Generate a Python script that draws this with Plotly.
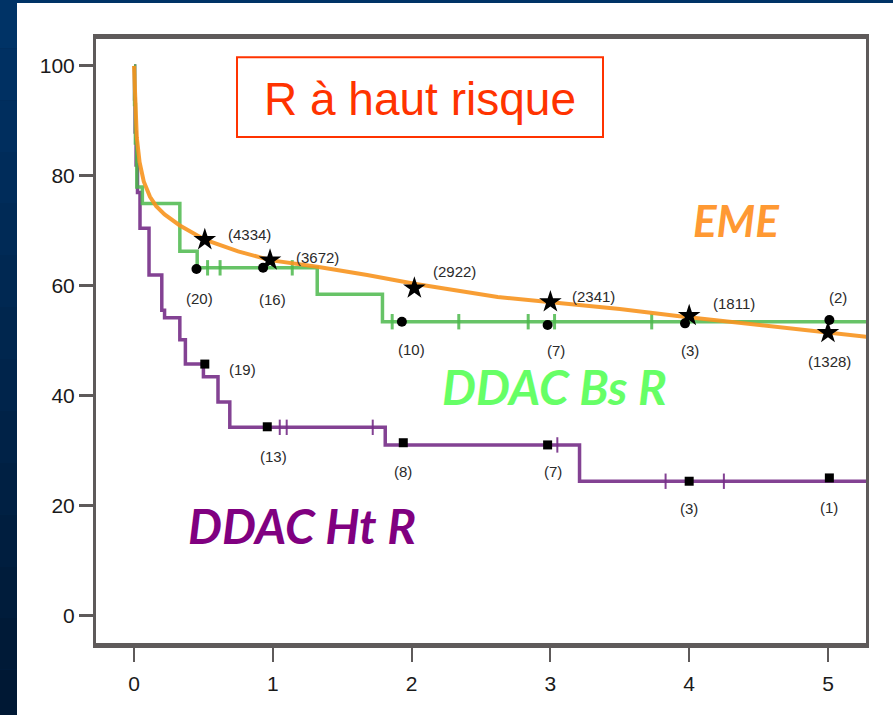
import numpy as np
import plotly.graph_objects as go

# ---------------- data ----------------
years_ticks = [0, 1, 2, 3, 4, 5]
y_ticks = [0, 20, 40, 60, 80, 100]

# EME (smooth curve)
eme_x = [0, 0.005, 0.01, 0.02, 0.04, 0.07, 0.115, 0.16, 0.22, 0.33, 0.51, 0.75, 0.98,
         1.32, 1.68, 2.02, 2.62, 2.98, 3.5, 3.93, 4.29, 5.0, 5.3]
eme_y = [100, 95, 91, 87, 82.5, 79, 76.2, 74.5, 73, 71, 68.4, 66.3, 64.7,
         63.5, 62.0, 60.4, 58.0, 57.1, 55.8, 54.5, 53.5, 51.6, 50.7]
eme_star_x = [0.51, 0.98, 2.02, 3.0, 4.0, 5.0]
eme_star_y = [68.4, 64.7, 59.6, 57.1, 54.6, 51.5]
eme_star_labels = ["(4334)", "(3672)", "(2922)", "(2341)", "(1811)", "(1328)"]

# DDAC Bs R (step)
bs_x = [0, 0.004, 0.01, 0.02, 0.06, 0.33, 0.455, 1.32, 1.79, 5.3]
bs_y = [100, 93, 86, 78, 75, 66.3, 63.3, 58.5, 53.5, 53.5]
bs_censor_x = [0.53, 0.62, 1.14, 1.86, 2.34, 2.84, 3.03, 3.73]
bs_pt_x = [0.45, 0.93, 1.93, 2.98, 3.97, 5.01]
bs_pt_y = [63.1, 63.3, 53.5, 52.9, 53.2, 53.8]
bs_pt_labels = ["(20)", "(16)", "(10)", "(7)", "(3)", "(2)"]

# DDAC Ht R (step)
ht_x = [0, 0.004, 0.008, 0.015, 0.025, 0.043, 0.108, 0.20, 0.22, 0.33, 0.37,
        0.50, 0.605, 0.69, 1.81, 3.21, 5.3]
ht_y = [100, 94, 88, 82, 77, 70.5, 62.0, 55.6, 54.2, 50.2, 45.8,
        43.5, 38.9, 34.3, 31.1, 24.5, 24.5]
ht_censor_x = [1.05, 1.10, 1.72, 3.05, 3.83, 4.25]
ht_pt_x = [0.51, 0.96, 1.94, 2.98, 4.0, 5.01]
ht_pt_y = [45.8, 34.4, 31.5, 31.1, 24.5, 25.1]
ht_pt_labels = ["(19)", "(13)", "(8)", "(7)", "(3)", "(1)"]

# ---------------- style ----------------
ORANGE = "rgba(247,148,30,0.9)"
GREEN = "rgba(76,184,76,0.85)"
PURPLE = "rgba(118,45,135,0.9)"
FRAME = "#5e5a5a"

# label offsets in pixels (xshift, yshift)
eme_off = [(45, 5), (47, 3), (40, 17), (43, 5), (45, 12), (2, -29)]
bs_off = [(3, -30), (9, -32), (10, -28), (8, -25), (5, -27), (9, 23)]
ht_off = [(38, -5), (6, -30), (0, -29), (5, -27), (0, -27), (0, -30)]


def step_lookup(xs, ys, xq):
    xs = np.asarray(xs)
    idx = np.searchsorted(xs, xq, side="right") - 1
    return [ys[i] for i in idx]


fig = go.Figure()

# step curves
fig.add_trace(go.Scatter(x=ht_x, y=ht_y, mode="lines", line=dict(color=PURPLE, width=3.5, shape="hv"),
                         showlegend=False, hoverinfo="skip"))
fig.add_trace(go.Scatter(x=ht_censor_x, y=step_lookup(ht_x, ht_y, ht_censor_x), mode="markers",
                         marker=dict(symbol="line-ns-open", size=11, color=PURPLE,
                                     line=dict(color=PURPLE, width=2)),
                         showlegend=False, hoverinfo="skip"))
fig.add_trace(go.Scatter(x=bs_x, y=bs_y, mode="lines", line=dict(color=GREEN, width=3.5, shape="hv"),
                         showlegend=False, hoverinfo="skip"))
fig.add_trace(go.Scatter(x=bs_censor_x, y=step_lookup(bs_x, bs_y, bs_censor_x), mode="markers",
                         marker=dict(symbol="line-ns-open", size=11, color=GREEN,
                                     line=dict(color=GREEN, width=3)),
                         showlegend=False, hoverinfo="skip"))
fig.add_trace(go.Scatter(x=eme_x, y=eme_y, mode="lines", line=dict(color=ORANGE, width=4),
                         showlegend=False, hoverinfo="skip"))

# markers
fig.add_trace(go.Scatter(x=ht_pt_x, y=ht_pt_y, mode="markers",
                         marker=dict(symbol="square", size=9, color="black"), showlegend=False))
fig.add_trace(go.Scatter(x=bs_pt_x, y=bs_pt_y, mode="markers",
                         marker=dict(symbol="circle", size=10, color="black"), showlegend=False))
fig.add_trace(go.Scatter(x=eme_star_x, y=eme_star_y, mode="markers",
                         marker=dict(symbol="star", size=17, color="black"), showlegend=False))

annotations = []
lab_font = dict(family="Arial, Liberation Sans", size=15, color="#2a2a2a")
for xs, ys, labs, offs in [(eme_star_x, eme_star_y, eme_star_labels, eme_off),
                           (bs_pt_x, bs_pt_y, bs_pt_labels, bs_off),
                           (ht_pt_x, ht_pt_y, ht_pt_labels, ht_off)]:
    for xv, yv, t, (dx, dy) in zip(xs, ys, labs, offs):
        annotations.append(dict(x=xv, y=yv, xref="x", yref="y", text=t, showarrow=False,
                                xshift=dx, yshift=dy, font=lab_font))

big = dict(family="Lato, Open Sans, sans-serif", size=48, weight="bold", style="italic")
annotations += [
    dict(x=4.344, y=72.0, xref="x", yref="y", text="EME", showarrow=False,
         font=dict(big, size=44, color="#ff9933")),
    dict(x=3.026, y=41.8, xref="x", yref="y", text="DDAC Bs R", showarrow=False,
         font=dict(big, color="#66ff66")),
    dict(x=1.21, y=16.5, xref="x", yref="y", text="DDAC Ht R", showarrow=False,
         font=dict(big, color="#800080")),
    dict(x=2.06, y=94.0, xref="x", yref="y", text="R à haut risque", showarrow=False,
         font=dict(family="Arial, Liberation Sans", size=46, color="#ff3300")),
]

shapes = []
# navy gradient background bands
n = 14
top = np.array([0, 51, 102])
bot = np.array([0, 24, 52])
y_lo, y_hi = -0.13, 1.07
for i in range(n):
    c = top + (bot - top) * (i / (n - 1))
    shapes.append(dict(type="rect", xref="paper", yref="paper", layer="below",
                       x0=-0.2, x1=1.1, y1=y_hi - (y_hi - y_lo) * i / n, y0=y_hi - (y_hi - y_lo) * (i + 1) / n,
                       fillcolor="rgb(%d,%d,%d)" % tuple(c), line=dict(width=0)))
# white panel
shapes.append(dict(type="rect", xref="paper", yref="paper", layer="below",
                   x0=(17 - 96) / 770, x1=1.1, y0=-0.2, y1=(643 - 3) / 604,
                   fillcolor="white", line=dict(width=0)))
# title box
shapes.append(dict(type="rect", xref="x", yref="y", x0=0.742, x1=3.379, y0=87.1, y1=101.6,
                   line=dict(color="#ff3300", width=2), fillcolor="rgba(0,0,0,0)"))

fig.update_layout(
    width=893, height=715,
    margin=dict(l=96, r=27, t=39, b=72),
    paper_bgcolor="rgb(0,40,80)",
    plot_bgcolor="rgba(0,0,0,0)",
    annotations=annotations,
    shapes=shapes,
    xaxis=dict(range=[-0.274, 5.274], tickvals=years_ticks, showgrid=False, zeroline=False,
               showline=True, linecolor=FRAME, linewidth=5, mirror=True,
               ticks="outside", ticklen=14, tickwidth=2, tickcolor=FRAME, ticklabelstandoff=4,
               tickfont=dict(family="Arial, Liberation Sans", size=21, color="#1a1a1a")),
    yaxis=dict(range=[-4.91, 104.9], tickvals=y_ticks, showgrid=False, zeroline=False,
               showline=True, linecolor=FRAME, linewidth=3, mirror=True,
               ticks="outside", ticklen=14, tickwidth=3, tickcolor=FRAME, ticklabelstandoff=0,
               tickfont=dict(family="Arial, Liberation Sans", size=21, color="#1a1a1a")),
)

fig.write_html("out.html")
